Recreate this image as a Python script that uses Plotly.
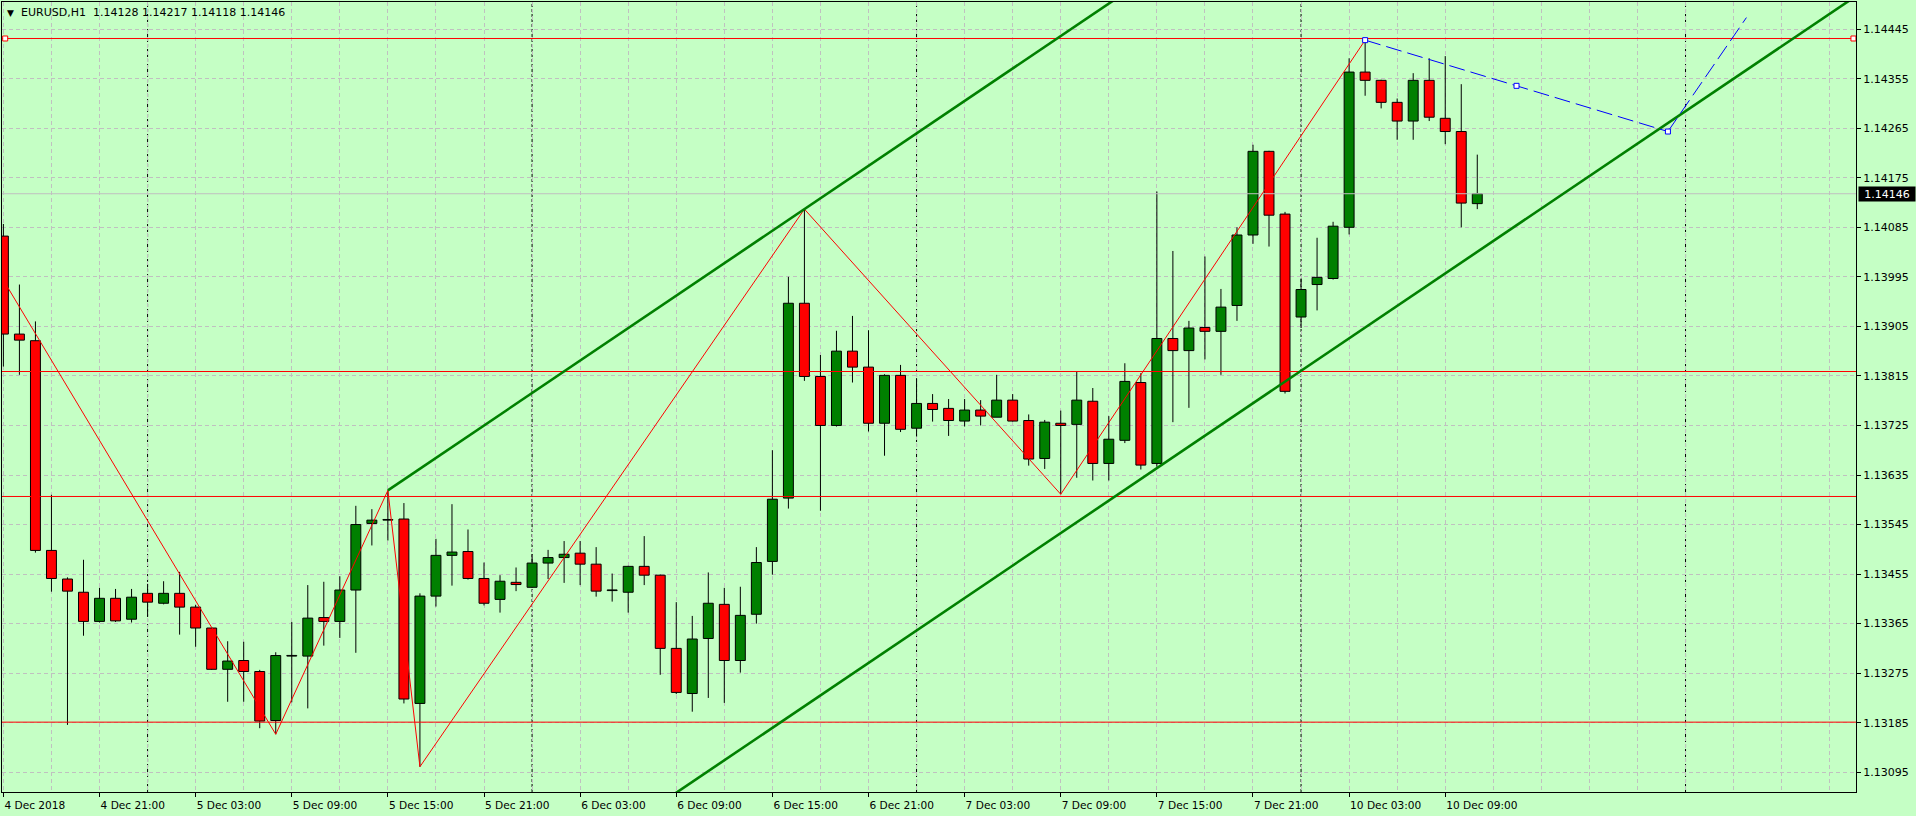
import plotly.graph_objects as go
from datetime import datetime, timedelta

# ---------------- data ----------------
symbol = "EURUSD,H1"
first_bar = datetime(2018, 12, 4, 15, 0)

opens = [1.14069, 1.13891, 1.13879, 1.13498, 1.13446, 1.13422, 1.13369, 1.13411, 1.13373, 1.13420,
         1.13402, 1.13420, 1.13395, 1.13357, 1.13282, 1.13298, 1.13278, 1.13189, 1.13306, 1.13306,
         1.13376, 1.13369, 1.13426, 1.13547, 1.13553, 1.13555, 1.13220, 1.13415, 1.13489, 1.13496,
         1.13447, 1.13409, 1.13440, 1.13431, 1.13475, 1.13485, 1.13493, 1.13473, 1.13425, 1.13422,
         1.13469, 1.13453, 1.13320, 1.13238, 1.13338, 1.13400, 1.13298, 1.13382, 1.13478, 1.13593,
         1.13947, 1.13814, 1.13725, 1.13860, 1.13831, 1.13729, 1.13816, 1.13720, 1.13765, 1.13756,
         1.13733, 1.13753, 1.13740, 1.13771, 1.13734, 1.13665, 1.13729, 1.13727, 1.13769, 1.13656,
         1.13698, 1.13803, 1.13656, 1.13883, 1.13861, 1.13903, 1.13896, 1.13943, 1.14071, 1.14223,
         1.14109, 1.13922, 1.13981, 1.13992, 1.14085, 1.14367, 1.14352, 1.14312, 1.14278, 1.14352,
         1.14283, 1.14259, 1.14128]
highs = [1.14091, 1.13981, 1.13914, 1.13599, 1.13449, 1.13481, 1.13430, 1.13428, 1.13428, 1.13437,
         1.13442, 1.13459, 1.13399, 1.13358, 1.13333, 1.13332, 1.13281, 1.13313, 1.13368, 1.13435,
         1.13441, 1.13451, 1.13579, 1.13573, 1.13607, 1.13584, 1.13420, 1.13519, 1.13582, 1.13536,
         1.13476, 1.13453, 1.13467, 1.13491, 1.13499, 1.13515, 1.13515, 1.13504, 1.13456, 1.13470,
         1.13524, 1.13454, 1.13404, 1.13379, 1.13458, 1.13430, 1.13432, 1.13504, 1.13680, 1.13995,
         1.14118, 1.13853, 1.13897, 1.13924, 1.13898, 1.13818, 1.13835, 1.13811, 1.13782, 1.13773,
         1.13773, 1.13771, 1.13817, 1.13782, 1.13745, 1.13735, 1.13752, 1.13823, 1.13793, 1.13742,
         1.13838, 1.13820, 1.14150, 1.14042, 1.13915, 1.14032, 1.13973, 1.14085, 1.14235, 1.14224,
         1.14113, 1.13992, 1.14066, 1.14095, 1.14392, 1.14425, 1.14353, 1.14319, 1.14365, 1.14392,
         1.14396, 1.14345, 1.14217]
lows = [1.13832, 1.13817, 1.13494, 1.13423, 1.13181, 1.13343, 1.13367, 1.13368, 1.13367, 1.13378,
        1.13400, 1.13345, 1.13323, 1.13281, 1.13223, 1.13223, 1.13175, 1.13164, 1.13222, 1.13211,
        1.13325, 1.13339, 1.13312, 1.13507, 1.13516, 1.13220, 1.13105, 1.13396, 1.13434, 1.13445,
        1.13398, 1.13385, 1.13424, 1.13430, 1.13446, 1.13439, 1.13435, 1.13414, 1.13405, 1.13385,
        1.13435, 1.13272, 1.13237, 1.13205, 1.13230, 1.13221, 1.13276, 1.13365, 1.13454, 1.13574,
        1.13806, 1.13570, 1.13723, 1.13803, 1.13714, 1.13670, 1.13713, 1.13705, 1.13732, 1.13706,
        1.13723, 1.13725, 1.13740, 1.13732, 1.13652, 1.13646, 1.13600, 1.13630, 1.13625, 1.13625,
        1.13693, 1.13645, 1.13650, 1.13731, 1.13757, 1.13845, 1.13817, 1.13915, 1.14055, 1.14050,
        1.13783, 1.13902, 1.13934, 1.13990, 1.14072, 1.14324, 1.14301, 1.14244, 1.14244, 1.14278,
        1.14236, 1.14085, 1.14118]
closes = [1.13891, 1.13880, 1.13498, 1.13447, 1.13424, 1.13369, 1.13411, 1.13370, 1.13413, 1.13404,
          1.13420, 1.13395, 1.13357, 1.13282, 1.13297, 1.13278, 1.13188, 1.13307, 1.13306, 1.13375,
          1.13369, 1.13426, 1.13545, 1.13553, 1.13553, 1.13228, 1.13415, 1.13489, 1.13495, 1.13447,
          1.13402, 1.13442, 1.13436, 1.13475, 1.13485, 1.13491, 1.13473, 1.13424, 1.13425, 1.13469,
          1.13453, 1.13320, 1.13240, 1.13337, 1.13402, 1.13298, 1.13380, 1.13476, 1.13591, 1.13947,
          1.13814, 1.13725, 1.13860, 1.13831, 1.13729, 1.13816, 1.13718, 1.13765, 1.13754, 1.13734,
          1.13753, 1.13742, 1.13771, 1.13733, 1.13664, 1.13731, 1.13725, 1.13771, 1.13656, 1.13700,
          1.13805, 1.13653, 1.13883, 1.13861, 1.13902, 1.13896, 1.13940, 1.14071, 1.14223, 1.14107,
          1.13787, 1.13972, 1.13994, 1.14087, 1.14367, 1.14352, 1.14312, 1.14278, 1.14352, 1.14285,
          1.14259, 1.14129, 1.14146]

# horizontal level lines (first one is the selected object)
levels = [1.14428, 1.13823, 1.13596, 1.13186]

# zigzag vertices (bar index, price); first vertex lies left of the visible window
zz_bars = [-2, 17, 24, 26, 50, 66, 85]
zz_prices = [1.14086, 1.13164, 1.13607, 1.13105, 1.14118, 1.13600, 1.14425]

# equidistant channel: two anchors of the upper line + channel width
chan_bars = [24, 50]
chan_prices = [1.13607, 1.14118]
chan_width = 0.00903

# blue dashed trend lines (bar index, price)
tl1_bars = [85, 103.9]
tl1_prices = [1.14425, 1.14259]
tl2_bars = [103.9, 108.8]
tl2_prices = [1.14259, 1.14466]

# axis ticks
y_tick0 = 1.13095
y_step = 0.0009
y_nticks = 16

# ---------------- styling constants ----------------
BG = "#C5FFC5"
UP = "#008000"
DN = "#FF0000"
GRID = "#C0C0C0"
X_RANGE = [-0.087, 115.64]
Y_RANGE = [1.130591, 1.144943]

n = len(opens)
# bar times (H1, skipping weekend)
times = []
t = first_bar
while len(times) < 120:
    if t.weekday() < 5:
        times.append(t)
    t += timedelta(hours=1)

separators = [i for i, tt in enumerate(times) if tt.hour == 0 and i <= X_RANGE[1]]
tick_idx = list(range(0, n, 6))
tick_txt = []
for i in tick_idx:
    tt = times[i]
    if i == 0:
        tick_txt.append(f"{tt.day} {tt.strftime('%b')} {tt.year}")
    else:
        tick_txt.append(f"{tt.day} {tt.strftime('%b')} {tt.strftime('%H:%M')}")

y_vals = [round(y_tick0 + k * y_step, 5) for k in range(y_nticks)]
y_txt = [f"{v:.5f}" for v in y_vals]

fig = go.Figure()

# candle bodies
MIN_BODY = 0.000012
up_i = [i for i in range(n) if closes[i] >= opens[i]]
dn_i = [i for i in range(n) if closes[i] < opens[i]]
fig.add_trace(go.Bar(
    x=up_i, base=[opens[i] for i in up_i],
    y=[max(closes[i] - opens[i], MIN_BODY) for i in up_i],
    width=0.62, marker=dict(color=UP, line=dict(color="black", width=1)),
    hoverinfo="skip", showlegend=False))
fig.add_trace(go.Bar(
    x=dn_i, base=[closes[i] for i in dn_i],
    y=[opens[i] - closes[i] for i in dn_i],
    width=0.62, marker=dict(color=DN, line=dict(color="black", width=1)),
    hoverinfo="skip", showlegend=False))

# wicks
wx, wy = [], []
for i in range(n):
    top = max(opens[i], closes[i])
    bot = min(opens[i], closes[i])
    wx += [i, i, None, i, i, None]
    wy += [highs[i], top, None, bot, lows[i], None]
fig.add_trace(go.Scatter(x=wx, y=wy, mode="lines", line=dict(color="black", width=1),
                         hoverinfo="skip", showlegend=False))

# bid line
fig.add_trace(go.Scatter(x=X_RANGE, y=[closes[-1]] * 2, mode="lines",
                         line=dict(color="#C0C0C0", width=1), hoverinfo="skip", showlegend=False))

# horizontal levels
for lv in levels:
    fig.add_trace(go.Scatter(x=X_RANGE, y=[lv, lv], mode="lines",
                             line=dict(color="red", width=1), hoverinfo="skip", showlegend=False))
# selection markers of first level
fig.add_trace(go.Scatter(x=[X_RANGE[0] + 0.2, X_RANGE[1] - 0.16], y=[levels[0]] * 2, mode="markers",
                         marker=dict(symbol="square", size=5, color="white",
                                     line=dict(color="red", width=1)),
                         hoverinfo="skip", showlegend=False))

# zigzag
fig.add_trace(go.Scatter(x=zz_bars, y=zz_prices, mode="lines",
                         line=dict(color="red", width=1), hoverinfo="skip", showlegend=False))

# channel
slope = (chan_prices[1] - chan_prices[0]) / (chan_bars[1] - chan_bars[0])
x_end = X_RANGE[1] + 2
up_end = chan_prices[0] + slope * (x_end - chan_bars[0])
fig.add_trace(go.Scatter(x=[chan_bars[0], x_end], y=[chan_prices[0], up_end], mode="lines",
                         line=dict(color=UP, width=2.6), hoverinfo="skip", showlegend=False))
fig.add_trace(go.Scatter(x=[chan_bars[0], x_end],
                         y=[chan_prices[0] - chan_width, up_end - chan_width], mode="lines",
                         line=dict(color=UP, width=2.6), hoverinfo="skip", showlegend=False))

# blue dashed trend lines
fig.add_trace(go.Scatter(x=tl2_bars, y=tl2_prices, mode="lines",
                         line=dict(color="#0000FF", width=1, dash="16px,6px"),
                         hoverinfo="skip", showlegend=False))
fig.add_trace(go.Scatter(x=tl1_bars, y=tl1_prices, mode="lines",
                         line=dict(color="#0000FF", width=1, dash="16px,6px"),
                         hoverinfo="skip", showlegend=False))
fig.add_trace(go.Scatter(x=[tl1_bars[0], (tl1_bars[0] + tl1_bars[1]) / 2, tl1_bars[1]],
                         y=[tl1_prices[0], (tl1_prices[0] + tl1_prices[1]) / 2, tl1_prices[1]],
                         mode="markers",
                         marker=dict(symbol="square", size=5, color="white",
                                     line=dict(color="#0000FF", width=1)),
                         hoverinfo="skip", showlegend=False))

# day separators
for s in separators:
    fig.add_shape(type="line", xref="x", yref="paper", x0=s, x1=s, y0=0, y1=1,
                  line=dict(color="black", width=1, dash="3px,2px"), layer="between")

# header
fig.add_annotation(xref="paper", yref="paper", x=0, y=1, xanchor="center", yanchor="middle",
                   xshift=8.5, yshift=-10.5, text="\u25BC", showarrow=False,
                   font=dict(family="DejaVu Sans", size=9, color="black"))
hdr = f"{symbol}\u00a0\u00a0{opens[-1]:.5f} {highs[-1]:.5f} {lows[-1]:.5f} {closes[-1]:.5f}"
fig.add_annotation(xref="paper", yref="paper", x=0, y=1, xanchor="left", yanchor="middle",
                   xshift=17, yshift=-10.5, text=hdr, showarrow=False,
                   font=dict(family="DejaVu Sans", size=11, color="black"))

# current price box
fig.add_annotation(xref="paper", yref="y", x=1, y=closes[-1], xanchor="left", yanchor="middle",
                   xshift=2, text=f"{closes[-1]:.5f}", showarrow=False, bgcolor="black",
                   width=54, height=12, borderpad=1, align="center",
                   font=dict(family="DejaVu Sans", size=11, color="white"))

fig.update_layout(
    width=1916, height=816, autosize=False,
    margin=dict(l=2, r=60, t=2, b=24, pad=0),
    paper_bgcolor=BG, plot_bgcolor=BG,
    barmode="overlay", bargap=0, hovermode=False, showlegend=False,
    font=dict(family="DejaVu Sans", size=11, color="black"),
    xaxis=dict(range=X_RANGE, tickmode="array", tickvals=tick_idx, ticktext=tick_txt,
               ticks="outside", ticklen=4, tickcolor="black", tickwidth=1,
               ticklabelposition="outside right", ticklabelstandoff=3,
               tickfont=dict(family="DejaVu Sans", size=10.6, color="black"),
               showgrid=True, gridcolor=GRID, gridwidth=1, griddash="4px,3px",
               minor=dict(tickmode="linear", tick0=0, dtick=3, showgrid=True,
                          gridcolor=GRID, gridwidth=1, griddash="4px,3px", ticks=""),
               showline=True, linecolor="black", linewidth=1, mirror=True,
               zeroline=False, fixedrange=True),
    yaxis=dict(range=Y_RANGE, side="right", tickmode="array", tickvals=y_vals, ticktext=y_txt,
               ticks="outside", ticklen=4, tickcolor="black", tickwidth=1,
               tickfont=dict(family="DejaVu Sans", size=11, color="black"),
               showgrid=True, gridcolor=GRID, gridwidth=1, griddash="4px,3px",
               showline=True, linecolor="black", linewidth=1, mirror=True,
               zeroline=False, fixedrange=True),
)

fig.write_html("out.html", config={"displayModeBar": False, "staticPlot": True},
               post_script="document.body.style.margin='0';document.body.style.overflow='hidden';")
